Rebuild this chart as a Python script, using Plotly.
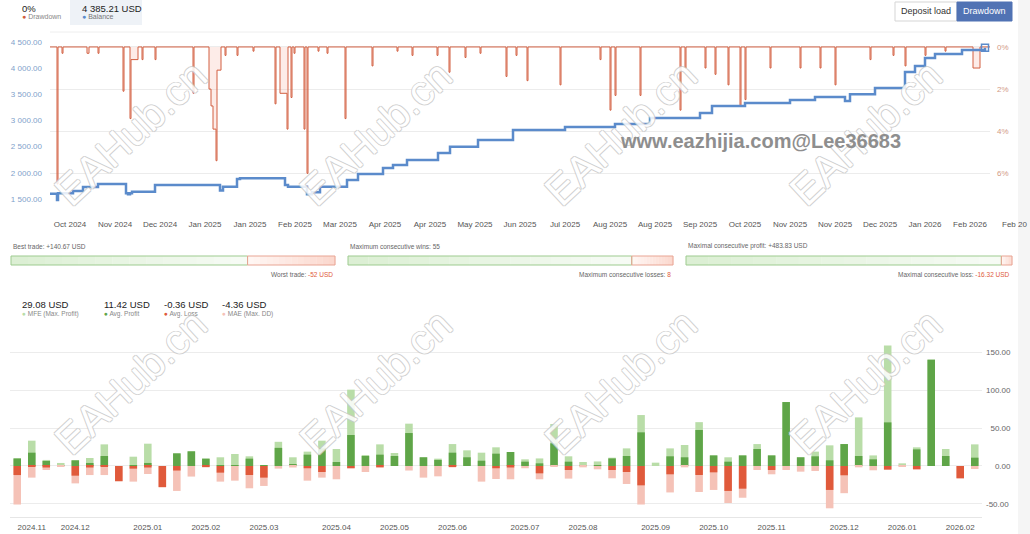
import plotly.graph_objects as go

W, H = 1030, 534


def px(x):
    return x / W


def py(y):
    return 1 - y / H


# ---------------- Balance curve (trade number -> balance, USD) ----------------
balance_trade = [0, 6, 7, 8, 23, 33, 48, 76, 78, 80, 82, 105, 170, 173, 187, 190,
                 235, 238, 257, 260, 262, 270, 297, 308, 333, 343, 357, 388, 400,
                 428, 463, 515, 565, 600, 650, 662, 695, 740, 765, 795, 800, 825,
                 855, 865, 875, 885, 912, 935]
balance_usd = [1600, 1600, 1480, 1609, 1653, 1729, 1786, 1609, 1590, 1609, 1639,
               1767, 1662, 1735, 1881, 1895, 1767, 1735, 1590, 1590, 1628, 1735,
               1862, 1977, 2091, 2148, 2244, 2377, 2497, 2625, 2816, 2873, 2930,
               3045, 3140, 3273, 3330, 3388, 3445, 3370, 3500, 3617, 3922, 4036,
               4190, 4265, 4341, 4385.21]

# ---------------- Drawdown episodes (start trade, depth %, length in trades) ----------------
dd_start = [7, 12, 37, 48, 73, 80, 81, 92, 105, 143, 159, 161, 163, 166, 167,
            175, 187, 203, 225, 230, 237, 241, 244, 254, 257, 268, 277, 295, 322,
            347, 362, 387, 399, 415, 430, 456, 466, 477, 510, 550, 560, 565, 590,
            630, 635, 655, 665, 678, 690, 695, 720, 750, 770, 785, 820, 843, 855,
            875, 895, 923]
dd_depth = [6.5, 0.3, 0.3, 0.3, 2.1, 3.4, 0.6, 0.6, 0.6, 2.2, 2.0, 2.8, 3.9, 5.4,
            1.1, 0.4, 0.4, 0.2, 2.7, 2.2, 3.9, 2.4, 0.3, 3.9, 6.0, 0.2, 0.3, 3.4,
            0.9, 0.2, 0.4, 0.4, 1.2, 0.5, 0.3, 1.4, 0.4, 1.6, 1.8, 0.6, 3.0, 2.3,
            2.3, 3.0, 1.0, 1.0, 1.3, 1.8, 2.8, 2.5, 1.0, 1.0, 1.0, 1.8, 0.6, 0.4,
            0.9, 0.4, 0.2, 1.0]
dd_len = [1, 1, 2, 1, 1, 1, 7, 1, 1, 1, 2, 2, 3, 1, 4,
          1, 1, 1, 1, 7, 1, 1, 1, 1, 1, 1, 1, 1, 1,
          1, 1, 1, 1, 1, 1, 1, 1, 1, 1, 1, 1, 1, 1,
          1, 1, 1, 1, 1, 1, 1, 1, 1, 1, 1, 1, 1, 1,
          1, 1, 7]
total_trades = 940

# ---------------- Top chart axes ----------------
bal_ticks = [1500, 2000, 2500, 3000, 3500, 4000, 4500]
bal_ticktext = ["1 500.00", "2 000.00", "2 500.00", "3 000.00", "3 500.00",
                "4 000.00", "4 500.00"]
dd_ticks = [0, 2, 4, 6]
dd_ticktext = ["0%", "2%", "4%", "6%"]
date_tick_trades = [20, 65, 110, 155, 200, 245, 290, 335, 380, 425, 470, 515, 560,
                    605, 650, 695, 740, 785, 830, 875, 920]
date_tick_labels = ["Oct 2024", "Nov 2024", "Dec 2024", "Jan 2025", "Jan 2025",
                    "Feb 2025", "Mar 2025", "Apr 2025", "Apr 2025", "May 2025",
                    "Jun 2025", "Jul 2025", "Aug 2025", "Aug 2025", "Sep 2025",
                    "Oct 2025", "Nov 2025", "Nov 2025", "Dec 2025", "Jan 2026",
                    "Feb 2026"]

# ---------------- Weekly MFE / MAE chart ----------------
mfe = [10, 33.5, 8, 4, 7.5, 10.6, 28.6, 0, 12.3, 29.5, 0, 16.7, 19.4, 9.7, 11.5,
       15.9, 12.8, 1.3, 32, 11.5, 19, 33.5, 22.5, 101, 14.5, 28.6, 17.2, 56, 11.5,
       9.7, 29, 20.7, 17.6, 24.7, 18.5, 8.8, 10, 55.5, 12.8, 5.3, 6, 11, 23.3,
       67.4, 4.4, 23.3, 27.8, 58, 14, 11.5, 14, 29, 14, 84.6, 11.5, 19, 27.3, 29,
       64.3, 14, 159.5, 3.5, 24.7, 140.67, 22.5, 0, 28.6]
avg_profit = [10, 17.6, 6.6, 0.5, 7.5, 4, 13.2, 0, 0.5, 4, 0, 16.7, 19.4, 9.7, 1.3,
              1.3, 9.7, 1.3, 24, 2.6, 15, 23.3, 5.3, 41, 13.2, 15, 13.2, 43.6, 11.5,
              8, 17.6, 11.5, 7, 16.3, 18.5, 5.7, 3.5, 30, 5.7, 1.3, 0.5, 10, 13.2,
              44.5, 0, 12.8, 11.5, 47.6, 14, 5.7, 14, 22.5, 14, 84.6, 11.5, 12.8,
              7.5, 29, 13.2, 8.8, 57.7, 0, 22, 140.67, 13.2, 0, 11]
avg_loss = [-12, -1, -2, 0, -12.8, -2, -1, -20, -3.5, -2, -28, -6, 0, -1, -8.8,
            0, -11.9, -15.4, 0, 0, -3, -8, 0, -3, 0, -1.8, 0, 0, 0,
            0, -1.5, 0, 0, -3, -2, 0, -9.7, 0, -5.3, 0, 0, -5.3, -8,
            -25.6, 0, -11, 0, -11.9, -8.4, -33, -30, 0, -5.3, 0, 0, 0,
            -31.7, -12.3, 0, 0, -4.8, 0, -4.4, 0, 0, -16.3, 0]
mae = [-51, -15.4, -5.3, -0.5, -23, -12, -12, -20.5, -20.7, -10.6, -28, -33, -14,
       -2, -20.7, -19.4, -29.5, -26.4, -3.5, -2, -19.4, -15.4, -17.6, -3, -8,
       -1.8, 0, -6, -15.4, -13.7, -1.5, 0, -20.7, -17.2, -17.6, -3, -17.6, -1,
       -16.7, -1.8, -4.4, -16.3, -23.8, -51, 0, -35, -1.8, -34.4, -31.7, -49,
       -42, -5.3, -11, -5.3, -7.5, -6.6, -56, -36, -1.8, -5.7, -4.8, -0.5, -4.4,
       0, 0, -16.3, -4]
week_tick_pos = [1, 4, 9, 13, 17, 22, 26, 30, 35, 39, 44, 48, 52, 57, 61, 65]
week_tick_labels = ["2024.11", "2024.12", "2025.01", "2025.02", "2025.03", "2025.04",
                    "2025.05", "2025.06", "2025.07", "2025.08", "2025.09", "2025.10",
                    "2025.11", "2025.12", "2026.01", "2026.02"]
val_ticks = [-50, 0, 50, 100, 150]
val_ticktext = ["-50.00", "\u2007\u20070.00", "\u200750.00", "100.00", "150.00"]

# ---------------- Summary statistics ----------------
current_drawdown = "0%"
current_balance = "4 385.21 USD"
best_trade, worst_trade = 140.67, -52
max_cons_wins, max_cons_losses = 55, 8
max_cons_profit, max_cons_loss = 483.83, -16.32
mfe_avg, profit_avg, loss_avg, mae_avg = 29.08, 11.42, -0.36, -4.36

# ---------------- colours ----------------
C_BAL = "#5b8bcb"
C_DD = "#d25f40"
C_MFE = "#b9dda8"
C_PROF = "#5fa548"
C_LOSS = "#e05a3b"
C_MAE = "#f5c2b7"
FONT = "Liberation Sans"

# build drawdown polyline
dd_x, dd_y = [0], [0]
for i, (s, d, n) in enumerate(zip(dd_start, dd_depth, dd_len)):
    dd_x.append(s)
    dd_y.append(d)
    nxt = dd_start[i + 1] if i + 1 < len(dd_start) else None
    if nxt != s + n:
        dd_x.append(s + n)
        dd_y.append(0)
dd_x.append(total_trades)
dd_y.append(0)

fig = go.Figure()

# drawdown (right axis, reversed)
fig.add_trace(go.Scatter(x=dd_x, y=dd_y, xaxis="x", yaxis="y", mode="lines",
                         line=dict(color=C_DD, width=1, shape="hv"),
                         fill="tozeroy", fillcolor="rgba(244,170,150,0.22)",
                         hoverinfo="skip", showlegend=False))
# balance (left axis)
fig.add_trace(go.Scatter(x=balance_trade, y=balance_usd, xaxis="x", yaxis="y2",
                         mode="lines", line=dict(color=C_BAL, width=2.5, shape="hv"),
                         showlegend=False))
fig.add_trace(go.Scatter(x=[balance_trade[-1]], y=[balance_usd[-1]], xaxis="x",
                         yaxis="y2", mode="markers",
                         marker=dict(symbol="square-open", size=7, color=C_BAL,
                                     line=dict(width=1.5, color=C_BAL)),
                         showlegend=False))

weeks = list(range(len(mfe)))
for vals, col in [(mfe, C_MFE), (avg_profit, C_PROF), (mae, C_MAE), (avg_loss, C_LOSS)]:
    fig.add_trace(go.Bar(x=weeks, y=vals, xaxis="x2", yaxis="y3", marker_color=col,
                         marker_line_width=0, width=0.52, showlegend=False))

grid = "#ececec"
axis_font = dict(family=FONT, size=8)
fig.update_layout(
    width=W, height=H, margin=dict(l=0, r=0, t=0, b=0),
    paper_bgcolor="white", plot_bgcolor="white", barmode="overlay",
    showlegend=False,
    xaxis=dict(domain=[px(50), px(990)], range=[0, total_trades], anchor="y",
               tickvals=date_tick_trades, ticktext=date_tick_labels,
               showgrid=False, zeroline=False, showline=False, ticks="",
               tickfont=dict(axis_font, color="#555"), ticklabelstandoff=8),
    yaxis=dict(domain=[py(210), py(32)], range=[7.74, -0.71], side="right",
               anchor="x", tickvals=dd_ticks, ticktext=dd_ticktext,
               showgrid=True, gridcolor=grid, zeroline=False, ticks="",
               tickfont=dict(axis_font, color="#d39a86"), ticklabelstandoff=6),
    yaxis2=dict(range=[1290, 4685], overlaying="y", side="left", anchor="x",
                tickvals=bal_ticks, ticktext=bal_ticktext, showgrid=False,
                zeroline=False, ticks="",
                tickfont=dict(axis_font, color="#7f9fcb"), ticklabelstandoff=7),
    xaxis2=dict(domain=[px(10), px(982)], range=[-0.5, len(mfe) - 0.5], anchor="y3",
                tickvals=week_tick_pos, ticktext=week_tick_labels, showgrid=False,
                zeroline=False, showline=True, linecolor="#e6e6e6", ticks="",
                tickfont=dict(axis_font, color="#555"), ticklabelstandoff=2),
    yaxis3=dict(domain=[py(517), py(340)], range=[-67.5, 166.7], side="right",
                anchor="x2", tickvals=val_ticks, ticktext=val_ticktext,
                showgrid=True, gridcolor=grid, zeroline=False, ticks="",
                tickfont=dict(axis_font, color="#666"), ticklabelstandoff=3),
)

shapes = []
annotations = []


def rect(x0, y0, x1, y1, fill, line=None, lw=0, layer="below"):
    shapes.append(dict(type="rect", xref="paper", yref="paper", x0=px(x0), x1=px(x1),
                       y0=py(y1), y1=py(y0), fillcolor=fill, layer=layer,
                       line=dict(color=line or fill, width=lw)))


def text(x, y, s, size=8, color="#333", xanchor="left", family=FONT, **kw):
    annotations.append(dict(xref="paper", yref="paper", x=px(x), y=py(y), text=s,
                            showarrow=False, xanchor=xanchor, yanchor="middle",
                            font=dict(family=family, size=size, color=color), **kw))


# right gray strip
rect(1018, 0, 1030, H, "#f5f5f5", layer="above")
# top border of the balance chart
shapes.append(dict(type="line", xref="paper", yref="paper", x0=px(50), x1=px(990),
                   y0=py(32), y1=py(32), line=dict(color="#eeeeee", width=1)))

# top legend
rect(70, 0, 142, 25, "#eef2f7")
text(20, 8, current_drawdown, size=9.5, color="#222")
text(20, 17, f'<span style="color:{C_DD}">●</span> Drawdown', size=7, color="#888")
text(80, 8, current_balance, size=9.5, color="#222")
text(80, 17, f'<span style="color:{C_BAL}">●</span> Balance', size=7, color="#777")

# buttons
rect(895, 2, 957, 21, "white", line="#d5d5d5", lw=1)
text(926, 11.5, "Deposit load", size=9, color="#333", xanchor="center")
rect(957, 2, 1012, 21, "#5173b4", line="#5173b4", lw=1)
text(984.5, 11.5, "Drawdown", size=9, color="white", xanchor="center")

# clipped last date label
text(1000, 224, "Feb 20", size=8, color="#555")


# summary bars
def lerp(c0, c1, t):
    a = [int(c0[i:i + 2], 16) for i in (1, 3, 5)]
    b = [int(c1[i:i + 2], 16) for i in (1, 3, 5)]
    return "#" + "".join(f"{round(a[k] + (b[k] - a[k]) * t):02x}" for k in range(3))


def stat_bar(x0, x1, pos, neg, top_label, bottom_label):
    split = x0 + (x1 - x0) * pos / (pos + neg)
    n = 14
    for i in range(n):
        a = x0 + (split - x0) * i / n
        b = x0 + (split - x0) * (i + 1) / n
        rect(a, 256, b + 0.3, 265, lerp("#dcefd4", "#f6fbf4", i / (n - 1)))
    for i in range(n):
        a = split + (x1 - split) * i / n
        b = split + (x1 - split) * (i + 1) / n
        rect(a, 256, b + 0.3, 265, lerp("#fff6f3", "#fbd8ce", i / (n - 1)))
    shapes.append(dict(type="rect", xref="paper", yref="paper", x0=px(x0), x1=px(split),
                       y0=py(265), y1=py(256), line=dict(color="#9dcb8f", width=1)))
    shapes.append(dict(type="rect", xref="paper", yref="paper", x0=px(split), x1=px(x1),
                       y0=py(265), y1=py(256), line=dict(color="#e8a594", width=1)))
    text(x0, 246.5, top_label, size=6.5, color="#666")
    text(x1, 274.5, bottom_label, size=6.5, color="#666", xanchor="right")


red = C_LOSS
stat_bar(11, 335, best_trade, abs(worst_trade),
         f"Best trade: +{best_trade:.2f} USD",
         f'Worst trade: <span style="color:{red}">{worst_trade:g} USD</span>')
stat_bar(348, 673, max_cons_wins, max_cons_losses,
         f"Maximum consecutive wins: {max_cons_wins}",
         f'Maximum consecutive losses: <span style="color:{red}">{max_cons_losses}</span>')
stat_bar(686, 1012, max_cons_profit, abs(max_cons_loss),
         f"Maximal consecutive profit: +{max_cons_profit:.2f} USD",
         f'Maximal consecutive loss: <span style="color:{red}">{max_cons_loss:.2f} USD</span>')

# bottom legend
leg = [(20, mfe_avg, C_MFE, "MFE (Max. Profit)"),
       (102, profit_avg, C_PROF, "Avg. Profit"),
       (162, loss_avg, C_LOSS, "Avg. Loss"),
       (220, mae_avg, C_MAE, "MAE (Max. DD)")]
for x, v, c, lab in leg:
    text(x, 304.5, f"{v:.2f} USD", size=9.5, color="#222")
    text(x, 313.5, f'<span style="color:{c}">●</span> {lab}', size=6.5, color="#888")

# watermarks
outline = "-1px 0 #c9c9c9, 1px 0 #c9c9c9, 0 -1px #c9c9c9, 0 1px #c9c9c9"
for cy in (133, 382):
    for cx in (130, 375, 620, 865):
        annotations.append(dict(xref="paper", yref="paper", x=px(cx), y=py(cy),
                                text="EAHub.cn", showarrow=False, textangle=-43,
                                xanchor="center", yanchor="middle", opacity=0.85,
                                font=dict(family=FONT, size=42, color="white",
                                          shadow=outline)))
annotations.append(dict(xref="paper", yref="paper", x=px(760), y=py(141),
                        text="www.eazhijia.com@Lee36683", showarrow=False,
                        xanchor="center", yanchor="middle",
                        font=dict(family=FONT, size=20, color="#8e8e8e", weight="bold")))

fig.update_layout(shapes=shapes, annotations=annotations)
fig.write_html("out.html", config={"displayModeBar": False})
